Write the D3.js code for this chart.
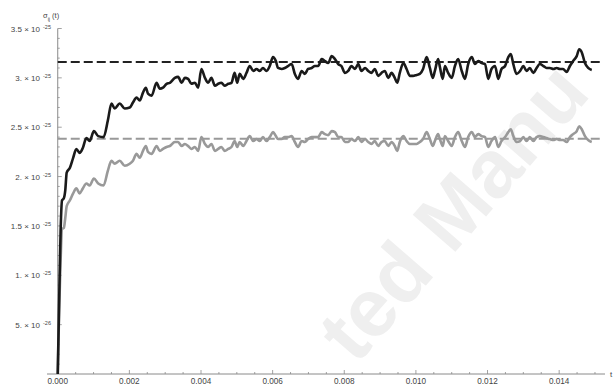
<!DOCTYPE html>
<html>
<head>
<meta charset="utf-8">
<script src="https://cdn.jsdelivr.net/npm/d3@7"></script>
<style>
  html, body { margin: 0; padding: 0; background: #fff; }
  svg { display: block; }
  text { font-family: "Liberation Sans", Arial, sans-serif; }
</style>
</head>
<body>
<svg id="chart" width="615" height="385"></svg>
<script>
// time samples (s), shared by both curves
const times = [
  0, 0.00004, 0.00008, 0.00012, 0.00017, 0.00021, 0.00025, 0.00034, 0.00043, 0.00052,
  0.00061, 0.00070, 0.00080, 0.00089, 0.00101, 0.00113, 0.00128, 0.00140, 0.00150, 0.00159,
  0.00173, 0.00187, 0.00201, 0.00210, 0.00220, 0.00229, 0.00238, 0.00246, 0.00252, 0.00262,
  0.00276, 0.00285, 0.00294, 0.00304, 0.00313, 0.00327, 0.00336, 0.00346, 0.00355, 0.00364,
  0.00373, 0.00383, 0.00392, 0.00401, 0.00411, 0.00420, 0.00429, 0.00439, 0.00448, 0.00457,
  0.00466, 0.00476, 0.00485, 0.00494, 0.00501, 0.00508, 0.00518, 0.00527, 0.00536, 0.00546,
  0.00555, 0.00564, 0.00573, 0.00583, 0.00592, 0.00601, 0.00609, 0.00615, 0.00625, 0.00634,
  0.00643, 0.00653, 0.00662, 0.00671, 0.00681, 0.00690, 0.00699, 0.00709, 0.00718, 0.00727,
  0.00737, 0.00746, 0.00755, 0.00765, 0.00774, 0.00783, 0.00792, 0.00802, 0.00811, 0.00820,
  0.00830, 0.00839, 0.00848, 0.00858, 0.00867, 0.00876, 0.00885, 0.00895, 0.00904, 0.00913,
  0.00923, 0.00932, 0.00941, 0.00948, 0.00955, 0.00965, 0.00974, 0.00983, 0.00992, 0.01002,
  0.01011, 0.01020, 0.01030, 0.01039, 0.01047, 0.01053, 0.01062, 0.01067, 0.01075, 0.01081,
  0.01090, 0.01100, 0.01109, 0.01118, 0.01128, 0.01137, 0.01146, 0.01156, 0.01165, 0.01174,
  0.01184, 0.01193, 0.01202, 0.01211, 0.01221, 0.01230, 0.01239, 0.01249, 0.01258, 0.01265,
  0.01272, 0.01281, 0.01291, 0.01300, 0.01309, 0.01318, 0.01328, 0.01337, 0.01346, 0.01356,
  0.01365, 0.01374, 0.01384, 0.01393, 0.01402, 0.01411, 0.01421, 0.01430, 0.01439, 0.01449,
  0.01456, 0.01463, 0.01472, 0.01481, 0.01491
];

// sigma_ij(t), in units of 1e-25
const sigmaBlack = [
  0, 0.75, 1.45, 1.76, 1.78, 1.86, 2.04, 2.09, 2.19, 2.28,
  2.24, 2.29, 2.39, 2.36, 2.46, 2.41, 2.40, 2.57, 2.74, 2.69,
  2.74, 2.69, 2.70, 2.75, 2.80, 2.77, 2.85, 2.90, 2.84, 2.82,
  2.95, 2.89, 2.90, 2.94, 2.95, 3.00, 3.01, 2.95, 3.00, 2.99,
  2.94, 2.95, 2.90, 3.09, 3.00, 2.95, 3.00, 2.92, 2.94, 2.95,
  2.92, 2.94, 2.95, 3.05, 2.95, 3.04, 2.99, 3.05, 3.12, 3.07,
  3.09, 3.07, 3.10, 3.07, 3.12, 3.21, 3.17, 3.10, 3.09, 3.10,
  3.12, 3.14, 3.04, 2.99, 3.07, 3.04, 3.09, 3.10, 3.12, 3.12,
  3.19, 3.17, 3.15, 3.22, 3.19, 3.14, 3.12, 3.05, 3.07, 3.12,
  3.09, 3.14, 3.07, 3.10, 3.07, 3.05, 3.09, 3.02, 3.05, 3.07,
  3.00, 3.05, 3.00, 2.95, 3.05, 3.15, 3.09, 3.02, 3.02, 3.03,
  3.04, 3.09, 3.21, 3.10, 3.00, 3.07, 3.19, 3.11, 2.99, 3.12,
  3.05, 3.00, 3.12, 3.19, 3.07, 2.99, 3.14, 3.21, 3.14, 3.17,
  3.15, 3.14, 2.99, 3.09, 3.12, 2.99, 3.09, 3.12, 3.21, 3.24,
  3.14, 3.04, 3.07, 3.12, 3.07, 3.10, 3.05, 3.10, 3.14, 3.12,
  3.10, 3.10, 3.09, 3.10, 3.09, 3.09, 3.06, 3.12, 3.17, 3.22,
  3.29, 3.26, 3.15, 3.10, 3.08
];

const sigmaGray = [
  0, 0.65, 1.15, 1.47, 1.48, 1.58, 1.70, 1.76, 1.83, 1.88,
  1.83, 1.88, 1.93, 1.91, 1.98, 1.93, 1.91, 2.06, 2.16, 2.13,
  2.16, 2.11, 2.13, 2.16, 2.23, 2.19, 2.26, 2.31, 2.25, 2.23,
  2.31, 2.26, 2.28, 2.30, 2.31, 2.35, 2.35, 2.31, 2.33, 2.31,
  2.28, 2.30, 2.26, 2.40, 2.33, 2.30, 2.33, 2.26, 2.28, 2.30,
  2.26, 2.28, 2.30, 2.36, 2.30, 2.35, 2.31, 2.36, 2.41, 2.36,
  2.38, 2.36, 2.40, 2.36, 2.40, 2.45, 2.41, 2.38, 2.38, 2.40,
  2.40, 2.41, 2.35, 2.30, 2.36, 2.35, 2.38, 2.40, 2.40, 2.40,
  2.45, 2.43, 2.42, 2.46, 2.45, 2.40, 2.40, 2.35, 2.35, 2.38,
  2.36, 2.40, 2.35, 2.38, 2.35, 2.33, 2.36, 2.31, 2.35, 2.36,
  2.31, 2.35, 2.31, 2.26, 2.35, 2.41, 2.36, 2.33, 2.33, 2.33,
  2.35, 2.38, 2.45, 2.38, 2.31, 2.36, 2.43, 2.38, 2.31, 2.41,
  2.36, 2.31, 2.40, 2.45, 2.36, 2.30, 2.40, 2.45, 2.40, 2.43,
  2.41, 2.40, 2.30, 2.36, 2.40, 2.30, 2.36, 2.40, 2.45, 2.48,
  2.41, 2.35, 2.36, 2.40, 2.36, 2.40, 2.36, 2.40, 2.41, 2.40,
  2.39, 2.38, 2.37, 2.38, 2.37, 2.37, 2.35, 2.40, 2.43, 2.46,
  2.51, 2.48, 2.41, 2.37, 2.35
];

// asymptotic levels (units of 1e-25)
const limitBlack = 3.16;
const limitGray = 2.384;

// axis ticks
const xTicks = [0, 0.002, 0.004, 0.006, 0.008, 0.010, 0.012, 0.014];
const yTicks = [0.5, 1.0, 1.5, 2.0, 2.5, 3.0, 3.5];
const yTickMantissa = ["5.", "1.", "1.5", "2.", "2.5", "3.", "3.5"];
const yTickExponent = ["-26", "-25", "-25", "-25", "-25", "-25", "-25"];

const svg = d3.select("#chart");

const x = d3.scaleLinear().domain([-0.0003, 0.01528]).range([47, 605]);
const y = d3.scaleLinear().domain([0, 3.5]).range([374, 28.5]);

// faint watermark behind the plot
svg.append("text")
  .attr("transform", "translate(356,366) rotate(-49)")
  .attr("font-size", 82)
  .attr("font-weight", "bold")
  .attr("fill", "#efefef")
  .text("ted Manu");

const axisColor = "#8a8a8a";
const labelColor = "#444";

// x axis
const xAxis = svg.append("g");
xAxis.append("line")
  .attr("x1", x.range()[0]).attr("x2", x.range()[1])
  .attr("y1", y(0)).attr("y2", y(0))
  .attr("stroke", axisColor).attr("stroke-width", 1);
const xMinor = d3.range(0, 0.01526, 0.0005);
xAxis.selectAll("line.minor").data(xMinor).join("line")
  .attr("class", "minor")
  .attr("x1", d => x(d)).attr("x2", d => x(d))
  .attr("y1", y(0)).attr("y2", d => y(0) - (xTicks.some(t => Math.abs(t - d) < 1e-9) ? 4 : 2))
  .attr("stroke", axisColor).attr("stroke-width", 0.8);
xAxis.selectAll("text").data(xTicks).join("text")
  .attr("x", d => x(d)).attr("y", 384)
  .attr("text-anchor", "middle")
  .attr("font-size", 8.2)
  .attr("fill", labelColor)
  .text(d => d3.format(".3f")(d));
svg.append("text")
  .attr("x", 610).attr("y", 377)
  .attr("font-size", 8)
  .attr("fill", labelColor)
  .text("t");

// y axis
const yAxis = svg.append("g");
yAxis.append("line")
  .attr("x1", x(0)).attr("x2", x(0))
  .attr("y1", y(0)).attr("y2", y(3.5))
  .attr("stroke", axisColor).attr("stroke-width", 1);
const yMinor = d3.range(0.1, 3.501, 0.1);
yAxis.selectAll("line.minor").data(yMinor).join("line")
  .attr("class", "minor")
  .attr("x1", x(0)).attr("x2", d => x(0) + (Math.abs(d * 2 - Math.round(d * 2)) < 1e-6 ? 4 : 2))
  .attr("y1", d => y(d)).attr("y2", d => y(d))
  .attr("stroke", axisColor).attr("stroke-width", 0.8);
const yLab = yAxis.selectAll("g.lab").data(yTicks).join("g")
  .attr("class", "lab")
  .attr("transform", d => `translate(0,${y(d)})`);
yLab.append("text")
  .attr("x", 40).attr("y", 3)
  .attr("text-anchor", "end")
  .attr("font-size", 8)
  .attr("fill", labelColor)
  .text((d, i) => yTickMantissa[i] + " \u00d7 10");
yLab.append("text")
  .attr("x", 43).attr("y", 0)
  .attr("font-size", 5.5)
  .attr("fill", labelColor)
  .text((d, i) => yTickExponent[i]);

// axis label sigma_ij(t)
const yTitle = svg.append("text")
  .attr("x", 43).attr("y", 18)
  .attr("font-size", 7.5)
  .attr("fill", labelColor);
yTitle.append("tspan").text("\u03c3");
yTitle.append("tspan").attr("dy", 2.5).attr("font-size", 5.5).text("ij");
yTitle.append("tspan").attr("dy", -2.5).attr("dx", 2).text("(t)");

// asymptotic dashed levels
const levels = [
  { v: limitGray, color: "#999999" },
  { v: limitBlack, color: "#222222" }
];
svg.selectAll("line.level").data(levels).join("line")
  .attr("class", "level")
  .attr("x1", x(0)).attr("x2", x(0.01515))
  .attr("y1", d => y(d.v)).attr("y2", d => y(d.v))
  .attr("stroke", d => d.color)
  .attr("stroke-width", 2)
  .attr("stroke-dasharray", "9,4");

// curves
const line = d3.line()
  .x(d => x(d[0]))
  .y(d => y(d[1]))
  .curve(d3.curveMonotoneX);

svg.append("path")
  .datum(times.map((t, i) => [t, sigmaGray[i]]))
  .attr("d", line)
  .attr("fill", "none")
  .attr("stroke", "#999999")
  .attr("stroke-width", 2.6)
  .attr("stroke-linejoin", "round");

svg.append("path")
  .datum(times.map((t, i) => [t, sigmaBlack[i]]))
  .attr("d", line)
  .attr("fill", "none")
  .attr("stroke", "#1a1a1a")
  .attr("stroke-width", 2.6)
  .attr("stroke-linejoin", "round");
</script>
</body>
</html>
